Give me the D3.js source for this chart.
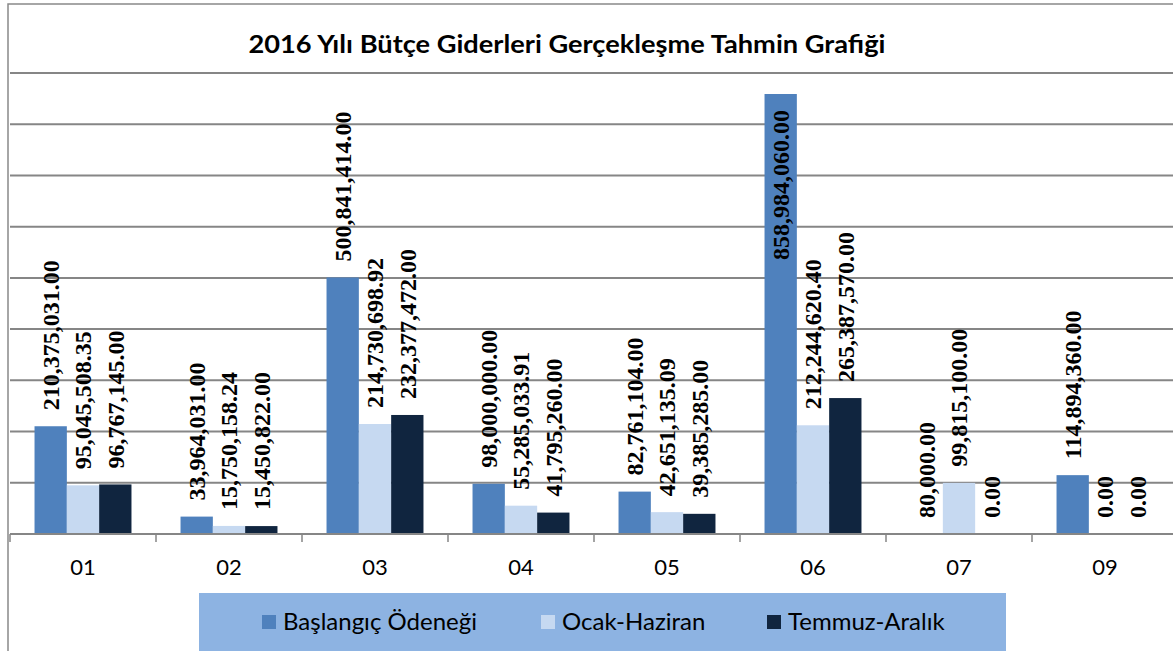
<!DOCTYPE html>
<html>
<head>
<meta charset="utf-8">
<script src="https://d3js.org/d3.v7.min.js"></script>
<style>
  body { margin: 0; background: #fff; }
  svg { display: block; }
</style>
</head>
<body>
<svg width="1173" height="651"></svg>
<script>
// Data
var categories = ["01", "02", "03", "04", "05", "06", "07", "09"];
var seriesNames = ["Başlangıç Ödeneği", "Ocak-Haziran", "Temmuz-Aralık"];
var baslangic = [210375031, 33964031, 500841414, 98000000, 82761104, 858984060, 80000, 114894360];
var ocakHaziran = [95045508.35, 15750158.24, 214730698.92, 55285033.91, 42651135.09, 212244620.40, 99815100, 0];
var temmuzAralik = [96767145, 15450822, 232377472, 41795260, 39385285, 265387570, 0, 0];
var yTicks = [0, 100000000, 200000000, 300000000, 400000000, 500000000, 600000000, 700000000, 800000000, 900000000];
var title = "2016 Yılı Bütçe Giderleri Gerçekleşme Tahmin Grafiği";

var colors = ["#4F81BD", "#C6D9F1", "#10253F"];
var seriesValues = [baslangic, ocakHaziran, temmuzAralik];

var svg = d3.select("svg"),
  width = +svg.attr("width"),
  height = +svg.attr("height");

var plotLeft = 10, plotTop = 73, plotBottom = 534, step = 146;
var sans = "Lato, 'Open Sans', sans-serif";

// Scales
var x0 = d3
  .scaleBand()
  .domain(categories)
  .range([plotLeft, plotLeft + step * categories.length])
  .paddingInner(0.336)
  .paddingOuter(0.168);

var x1 = d3.scaleBand().domain(d3.range(seriesNames.length)).range([0, x0.bandwidth()]);

var y = d3.scaleLinear().domain([0, 900000000]).range([plotBottom, plotTop]);

var fmt = d3.format(",.2f");

// outer chart border
svg
  .append("rect")
  .attr("x", 8)
  .attr("y", 4)
  .attr("width", width + 20)
  .attr("height", height + 20)
  .attr("fill", "#fff")
  .attr("stroke", "#898989")
  .attr("stroke-width", 1.5);

// title
svg
  .append("text")
  .attr("x", 567)
  .attr("y", 53)
  .attr("text-anchor", "middle")
  .attr("textLength", 637)
  .attr("lengthAdjust", "spacingAndGlyphs")
  .style("font-family", sans)
  .style("font-weight", "bold")
  .style("font-size", "24.5px")
  .attr("fill", "#000")
  .text(title);

// gridlines
svg
  .append("g")
  .selectAll("line")
  .data(yTicks.slice(1))
  .enter()
  .append("line")
  .attr("x1", plotLeft)
  .attr("x2", width)
  .attr("y1", function (d) { return y(d); })
  .attr("y2", function (d) { return y(d); })
  .attr("stroke", "#868686")
  .attr("stroke-width", 2);

// bars
var rows = [];
categories.forEach(function (c, i) {
  seriesValues.forEach(function (s, j) {
    rows.push({ cat: c, s: j, value: s[i] });
  });
});

var bars = svg.append("g");
bars
  .selectAll("rect")
  .data(rows)
  .enter()
  .append("rect")
  .attr("x", function (d) { return x0(d.cat) + x1(d.s); })
  .attr("y", function (d) { return y(d.value); })
  .attr("width", x1.bandwidth())
  .attr("height", function (d) { return plotBottom - y(d.value); })
  .attr("fill", function (d) { return colors[d.s]; });

// x axis
var xAxis = svg.append("g").attr("transform", "translate(0," + plotBottom + ")");
xAxis
  .append("line")
  .attr("x1", plotLeft)
  .attr("x2", width)
  .attr("stroke", "#868686")
  .attr("stroke-width", 2);
xAxis
  .selectAll(".tick")
  .data(d3.range(categories.length + 1))
  .enter()
  .append("line")
  .attr("x1", function (d) { return plotLeft + d * x0.step(); })
  .attr("x2", function (d) { return plotLeft + d * x0.step(); })
  .attr("y1", 0)
  .attr("y2", 8)
  .attr("stroke", "#868686")
  .attr("stroke-width", 1.5);
xAxis
  .selectAll("text")
  .data(categories)
  .enter()
  .append("text")
  .attr("x", function (d) { return x0(d) + x0.bandwidth() / 2; })
  .attr("y", 41)
  .attr("text-anchor", "middle")
  .style("font-family", sans)
  .style("font-size", "22px")
  .attr("fill", "#000")
  .text(function (d) { return d; });

// value labels, rotated
var labels = svg
  .append("g")
  .selectAll("text")
  .data(rows)
  .enter()
  .append("text")
  .style("font-family", "'Liberation Serif', 'Times New Roman', serif")
  .style("font-weight", "bold")
  .style("font-size", "24px")
  .attr("fill", "#000")
  .attr("dy", "0.35em")
  .text(function (d) { return fmt(d.value); });

labels.each(function (d) {
  var len = this.getComputedTextLength();
  var cx = x0(d.cat) + x1(d.s) + x1.bandwidth() / 2;
  var top = y(d.value);
  // put inside the bar when there is no room above
  var inside = top - 16 - len < plotTop;
  d3.select(this)
    .attr("text-anchor", inside ? "end" : "start")
    .attr("transform", "translate(" + cx + "," + (inside ? top + 16 : top - 16) + ") rotate(-90)");
});

// legend
var legend = svg.append("g");
legend
  .append("rect")
  .attr("x", 199)
  .attr("y", 593)
  .attr("width", 807)
  .attr("height", 70)
  .attr("fill", "#8DB3E2");

var legendX = [262, 541, 767];
var item = legend
  .selectAll(".item")
  .data(seriesNames)
  .enter()
  .append("g")
  .attr("transform", function (d, i) { return "translate(" + legendX[i] + ",615)"; });
item
  .append("rect")
  .attr("width", 14)
  .attr("height", 14)
  .attr("fill", function (d, i) { return colors[i]; });
item
  .append("text")
  .attr("x", 21)
  .attr("y", 14.5)
  .style("font-family", sans)
  .style("font-size", "24px")
  .attr("fill", "#000")
  .text(function (d) { return d; });
</script>
</body>
</html>
